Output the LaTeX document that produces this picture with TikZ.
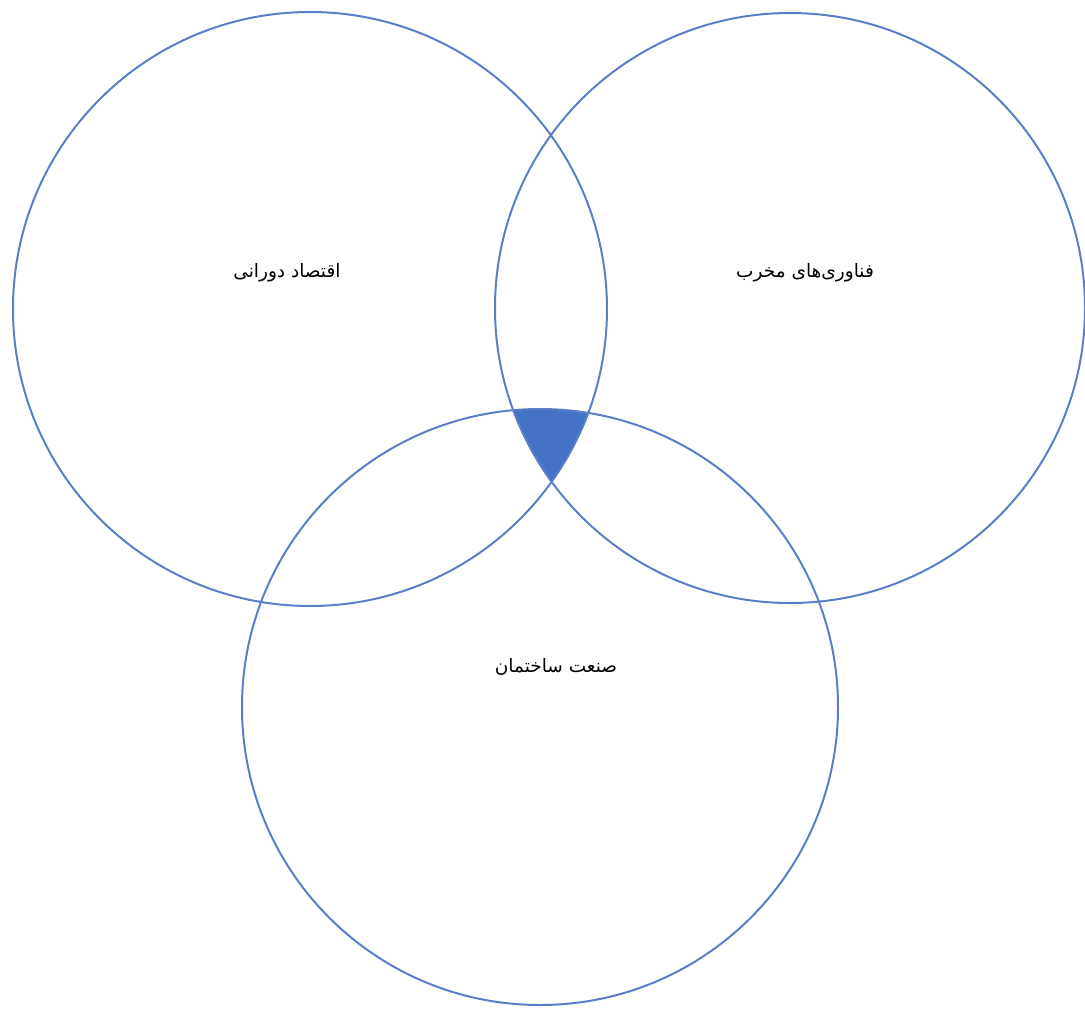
\documentclass[tikz,border=0pt]{standalone}
\usepackage{fontspec}
\newfontfamily\arabicfont[Script=Arabic]{DejaVu Sans}
\TeXXeTstate=1
\definecolor{vblue}{HTML}{4472C4}
\definecolor{vline}{HTML}{5A7FC6}
\begin{document}
\begin{tikzpicture}[x=1pt,y=-1pt,
  ring/.style={draw=vline,line width=2pt},
  lbl/.style={font=\arabicfont\fontsize{18.5}{22}\selectfont,text=black}]
\useasboundingbox (0,0) rectangle (1085,1009);
\coordinate (c1) at (310,309);
\coordinate (c2) at (790,308);
\coordinate (c3) at (540,707);
\begin{scope}
  \clip (c1) circle[radius=297];
  \clip (c2) circle[radius=295];
  \fill[vblue] (c3) circle[radius=298];
\end{scope}
\draw[ring] (c1) circle[radius=297];
\draw[ring] (c2) circle[radius=295];
\draw[ring] (c3) circle[radius=298];
\node[lbl] (t1) at (287,273) {\beginR اقتصاد دورانی\endR};
\node[lbl] (t2) at (805,273) {\beginR فناوری‌های مخرب\endR};
\node[lbl] (t3) at (556,667) {\beginR صنعت ساختمان\endR};
\end{tikzpicture}
\end{document}
